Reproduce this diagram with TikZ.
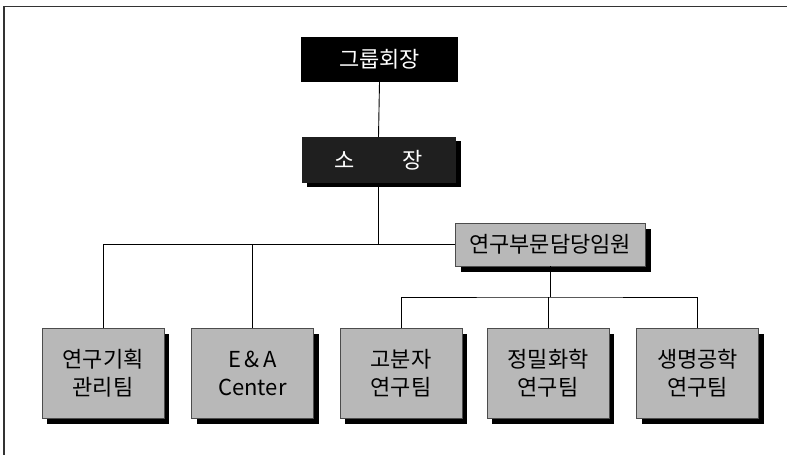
\documentclass[tikz,border=0pt]{standalone}
\usepackage{fontspec}
\setmainfont{Noto Sans CJK KR}
\usetikzlibrary{shadows}
\definecolor{boxgray}{gray}{0.72}
\definecolor{darkbox}{gray}{0.12}
\tikzset{
  line/.style={draw=black, line width=0.9pt},
  topbox/.style={fill=black, text=white, minimum width=157pt, minimum height=45pt, inner sep=0pt, font=\fontsize{22}{26}\selectfont},
  headbox/.style={fill=darkbox, text=white, minimum width=154pt, minimum height=46pt, inner sep=0pt, font=\fontsize{22}{26}\selectfont,
    general shadow={fill=black, shadow xshift=5pt, shadow yshift=-4pt}},
  midbox/.style={fill=boxgray, draw=black!70, line width=0.6pt, minimum width=190pt, minimum height=43pt, inner sep=0pt, font=\fontsize{22}{26}\selectfont,
    general shadow={fill=black, shadow xshift=6pt, shadow yshift=-6pt}},
  teambox/.style={fill=boxgray, draw=black!70, line width=0.6pt, minimum width=122pt, minimum height=90pt, inner sep=0pt, align=center,
    font=\fontsize{22}{28}\selectfont,
    general shadow={fill=black, shadow xshift=5pt, shadow yshift=-6pt}},
  frame/.style={draw=black!80, line width=1.5pt}
}
\begin{document}
\begin{tikzpicture}[x=1pt,y=-1pt]
\useasboundingbox (0,0) rectangle (787,455);
\coordinate (fa) at (4,455);
\coordinate (fb) at (4,6.5);
\coordinate (fc) at (787,6.5);
\draw[frame] (fa) -- (fb) -- (fc);

\node[topbox] (chair) at (379.5,59.5) {그룹회장};
\node[headbox] (head) at (378.5,160) {소\hspace{2.2em}장};
\node[midbox] (vp) at (550,244.5) {연구부문담당임원};

\node[teambox] (t1) at (103,373) {연구기획\\관리팀};
\node[teambox] (t2) at (252.5,373) {E\,\&\,A\\Center};
\node[teambox] (t3) at (401,373) {고분자\\연구팀};
\node[teambox] (t4) at (548,373) {정밀화학\\연구팀};
\node[teambox] (t5) at (697.5,373) {생명공학\\연구팀};

\coordinate (j1) at (head.south |- vp.west);
\coordinate (j2) at (vp.south |- 0,297);

\draw[line] (chair.south) -- (head.north);
\draw[line] (head.south) -- (j1);
\draw[line] (t1.north) |- (vp.west);
\draw[line] (t2.north) -- (t2.north |- vp.west);
\draw[line] (vp.south) -- (j2);
\draw[line] (t3.north) |- (j2) -| (t5.north);
\draw[line] (t4.north) -- (t4.north |- j2);
\end{tikzpicture}
\end{document}
